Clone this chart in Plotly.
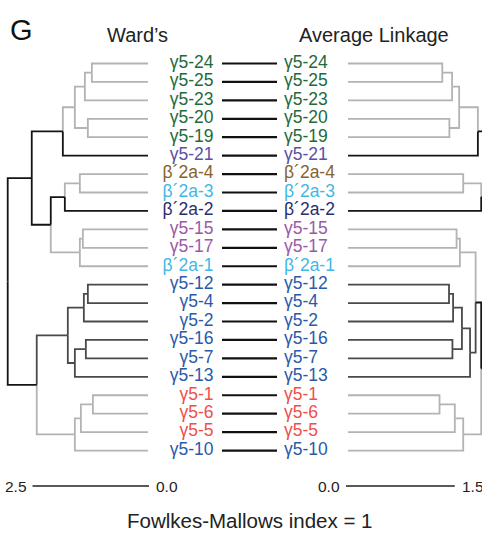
import plotly.graph_objects as go

# ---------------- data ----------------
leaves = ["γ5-24", "γ5-25", "γ5-23", "γ5-20", "γ5-19", "γ5-21",
          "β´2a-4", "β´2a-3", "β´2a-2", "γ5-15", "γ5-17", "β´2a-1",
          "γ5-12", "γ5-4", "γ5-2", "γ5-16", "γ5-7", "γ5-13",
          "γ5-1", "γ5-6", "γ5-5", "γ5-10"]
leaf_label_colors = ["#1e6a3a"] * 5 + ["#5b4fa6", "#86632a", "#3fb8e6", "#2b2e6b",
                     "#9c58a6", "#9c58a6", "#3fb8e6"] + ["#2a5aa8"] * 6 + \
                    ["#ee4f4b"] * 3 + ["#2a5aa8"]
# branch shade of each leaf edge: G light gray, D dark gray, K black
leaf_edge_shade = ["G"] * 5 + ["K", "G", "G", "K", "G", "G", "G"] + ["D"] * 6 + ["G"] * 4

# Ward's linkage (left tree): child a, child b, merge height, branch shade
ward_a = ["γ5-24", "N0", "γ5-20", "N1", "N3", "β´2a-4", "N5", "γ5-15", "N7", "N6", "N4",
          "γ5-12", "N11", "γ5-16", "N13", "N12", "γ5-1", "N16", "N17", "N15", "N10"]
ward_b = ["γ5-25", "γ5-23", "γ5-19", "N2", "γ5-21", "β´2a-3", "β´2a-2", "γ5-17", "β´2a-1", "N8", "N9",
          "γ5-4", "γ5-2", "γ5-7", "γ5-13", "N14", "γ5-6", "γ5-5", "γ5-10", "N18", "N19"]
ward_h = [1.226, 1.376, 1.312, 1.591, 1.849, 1.484, 1.806, 1.419, 1.484, 2.108, 2.516,
          1.312, 1.398, 1.355, 1.591, 1.742, 1.204, 1.462, 1.591, 2.409, 3.032]
ward_shade = ["G", "G", "G", "G", "K", "G", "K", "G", "G", "K", "K",
              "D", "D", "D", "D", "D", "G", "G", "G", "K", "K"]

# Average linkage (right tree)
avg_a = ["γ5-24", "N0", "γ5-20", "N1", "N3", "β´2a-4", "N5", "γ5-15", "N7",
         "γ5-12", "N9", "γ5-16", "N10", "N12", "γ5-1", "N14", "N15", "N8", "N17", "N4", "N19"]
avg_b = ["γ5-25", "γ5-23", "γ5-19", "N2", "γ5-21", "β´2a-3", "β´2a-2", "γ5-17", "β´2a-1",
         "γ5-4", "γ5-2", "γ5-7", "N11", "γ5-13", "γ5-6", "γ5-5", "γ5-10", "N13", "N16", "N6", "N18"]
avg_h = [1.328, 1.463, 1.426, 1.561, 1.819, 1.617, 1.865, 1.525, 1.571,
         1.421, 1.477, 1.468, 1.599, 1.711, 1.290, 1.501, 1.617, 1.788, 1.865, 1.95, 2.05]
avg_shade = ["G", "G", "G", "G", "K", "G", "K", "G", "G",
             "D", "D", "D", "D", "D", "G", "G", "G", "K", "K", "K", "K"]

left_title = "Ward’s"
right_title = "Average Linkage"
left_scale = [2.5, 0.0]
right_scale = [0.0, 1.5]
footer = "Fowlkes-Mallows index = 1"
panel = "G"

# ---------------- layout constants ----------------
W, H = 482, 535
SHADES = {"G": "#b3b3b3", "D": "#4a4a4a", "K": "#141414"}
FONT = "Liberation Sans, Arial, sans-serif"
TXT = "#222222"

L_ZERO, L_K = 149.0, 46.6      # left tree: pixel of height 0, pixels per unit
R_ZERO, R_K = 346.0, 72.5      # right tree
Y0, DY = 63.5, 18.43           # first leaf pixel row, row spacing
BAR_Y = 486                    # pixel row of scale bars


def lx(px):
    return (L_ZERO - px) / L_K


def rx(px):
    return (px - R_ZERO) / R_K


def yrow(py):
    return (py - Y0) / DY


leaf_pos = {name: i for i, name in enumerate(leaves)}
leaf_shade = dict(zip(leaves, leaf_edge_shade))


def tree_segments(a_list, b_list, h_list, shade_list, tip):
    ypos = dict(leaf_pos)
    hpos = {n: tip for n in leaves}
    shade = dict(leaf_shade)
    segs = {"G": ([], []), "D": ([], []), "K": ([], [])}
    for i, (a, b, h, s) in enumerate(zip(a_list, b_list, h_list, shade_list)):
        node = "N%d" % i
        ypos[node] = (ypos[a] + ypos[b]) / 2.0
        hpos[node] = h
        shade[node] = s
        for c in (a, b):
            xs, ys = segs[shade[c]]
            xs += [h, h, hpos[c], None]
            ys += [ypos[node], ypos[c], ypos[c], None]
    return segs


fig = go.Figure()

# leaf tips sit a hair inside the zero of each scale
for segs, axis in ((tree_segments(ward_a, ward_b, ward_h, ward_shade, lx(148)), "x"),
                   (tree_segments(avg_a, avg_b, avg_h, avg_shade, rx(348)), "x2")):
    for s in ("G", "D", "K"):
        xs, ys = segs[s]
        fig.add_trace(go.Scatter(x=xs, y=ys, mode="lines", xaxis=axis, yaxis="y",
                                 line=dict(color=SHADES[s], width=1.8),
                                 hoverinfo="skip", showlegend=False))

# connectors between matching leaves
cx, cy = [], []
for i in range(len(leaves)):
    cx += [lx(222), lx(277), None]
    cy += [i, i, None]
fig.add_trace(go.Scatter(x=cx, y=cy, mode="lines", xaxis="x", yaxis="y",
                         line=dict(color="#111111", width=2.2),
                         hoverinfo="skip", showlegend=False))

# leaf labels
fig.add_trace(go.Scatter(x=[lx(213.5)] * len(leaves), y=list(range(len(leaves))),
                         mode="text", text=leaves, textposition="middle left",
                         textfont=dict(family=FONT, size=17.5, color=leaf_label_colors),
                         xaxis="x", yaxis="y", hoverinfo="skip", showlegend=False))
fig.add_trace(go.Scatter(x=[rx(284)] * len(leaves), y=list(range(len(leaves))),
                         mode="text", text=leaves, textposition="middle right",
                         textfont=dict(family=FONT, size=17.5, color=leaf_label_colors),
                         xaxis="x2", yaxis="y", hoverinfo="skip", showlegend=False))

# scale bars drawn on each tree's own height scale
ys_bar = yrow(BAR_Y)
fig.add_trace(go.Scatter(x=left_scale, y=[ys_bar, ys_bar], mode="lines", xaxis="x", yaxis="y",
                         line=dict(color=TXT, width=1.3), hoverinfo="skip", showlegend=False))
fig.add_trace(go.Scatter(x=right_scale, y=[ys_bar, ys_bar], mode="lines", xaxis="x2", yaxis="y",
                         line=dict(color=TXT, width=1.3), hoverinfo="skip", showlegend=False))

annotations = []
for axis, vals in (("x", left_scale), ("x2", right_scale)):
    annotations.append(dict(text="%.1f" % vals[0], x=vals[0], y=ys_bar, xref=axis, yref="y",
                            xanchor="right", yanchor="middle", xshift=-4, showarrow=False,
                            font=dict(family=FONT, size=15.5, color=TXT)))
    annotations.append(dict(text="%.1f" % vals[1], x=vals[1], y=ys_bar, xref=axis, yref="y",
                            xanchor="left", yanchor="middle", xshift=5, showarrow=False,
                            font=dict(family=FONT, size=15.5, color=TXT)))

annotations += [
    dict(text=panel, x=21 / W, y=1 - 30 / H, xref="paper", yref="paper",
         xanchor="center", yanchor="middle",
         showarrow=False, font=dict(family=FONT, size=29, color="#111111")),
    dict(text=left_title, x=137.5 / W, y=1 - 35 / H, xref="paper", yref="paper",
         xanchor="center", yanchor="middle",
         showarrow=False, font=dict(family=FONT, size=20, color=TXT)),
    dict(text=right_title, x=373.5 / W, y=1 - 35 / H, xref="paper", yref="paper",
         xanchor="center", yanchor="middle",
         showarrow=False, font=dict(family=FONT, size=20, color=TXT)),
    dict(text=footer, x=250 / W, y=1 - 520 / H, xref="paper", yref="paper",
         xanchor="center", yanchor="middle",
         showarrow=False, font=dict(family=FONT, size=20.5, color=TXT)),
]

fig.update_layout(
    width=W, height=H, margin=dict(l=0, r=0, t=0, b=0),
    paper_bgcolor="white", plot_bgcolor="white",
    xaxis=dict(range=[lx(0), lx(W)], domain=[0, 1], visible=False, fixedrange=True),
    xaxis2=dict(range=[rx(0), rx(W)], domain=[0, 1], overlaying="x", side="top",
                visible=False, fixedrange=True),
    yaxis=dict(range=[yrow(H), yrow(0)], domain=[0, 1], visible=False, fixedrange=True),
    annotations=annotations,
)

fig.write_html("out.html", config={"displayModeBar": False},
               post_script="document.body.style.margin='0';document.body.style.overflow='hidden';")
